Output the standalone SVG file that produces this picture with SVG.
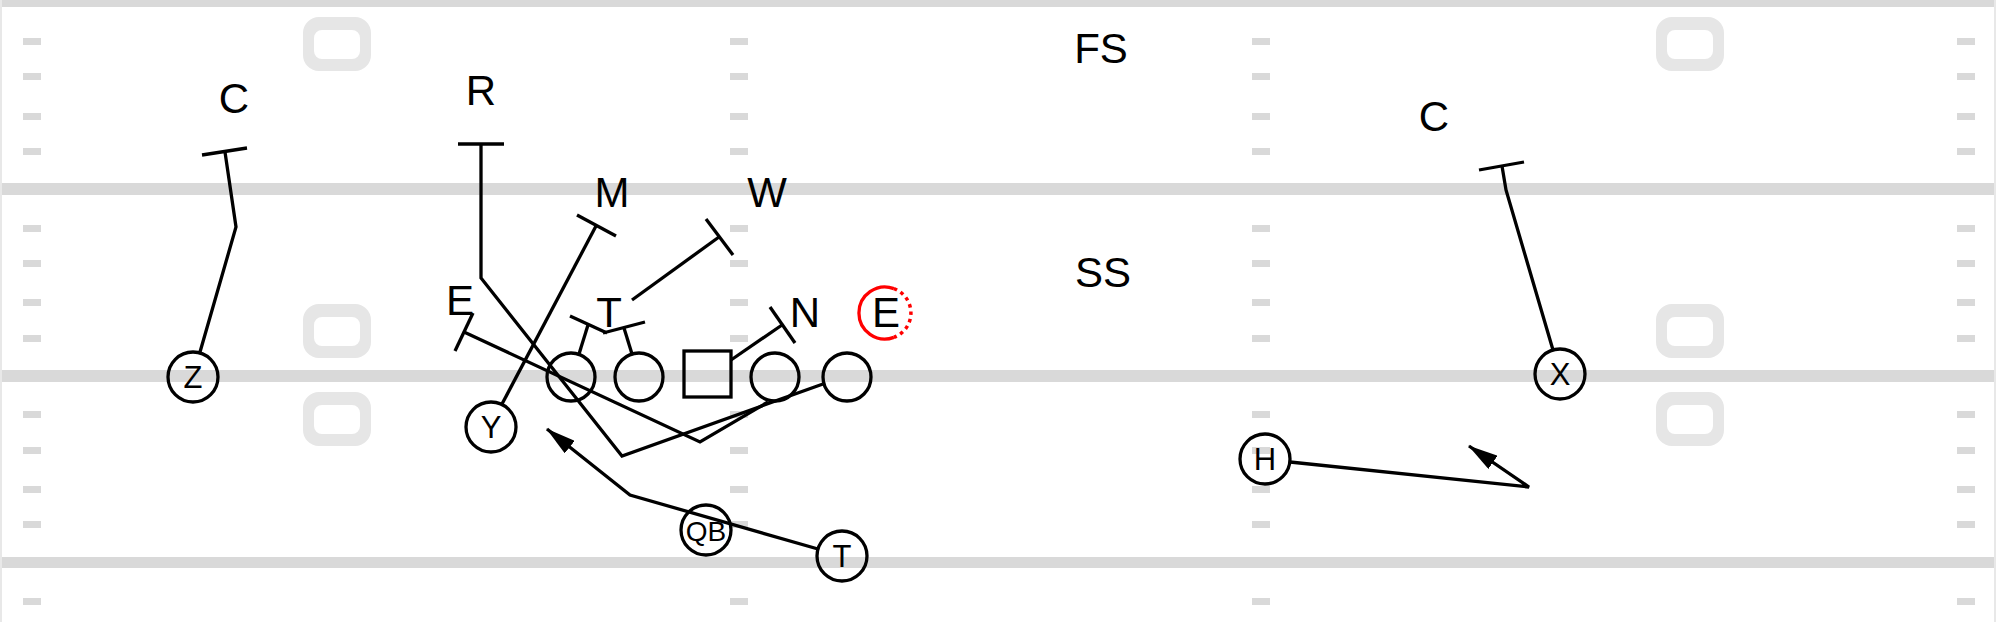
<svg xmlns="http://www.w3.org/2000/svg" xmlns:xlink="http://www.w3.org/1999/xlink" width="1996" height="622" viewBox="0 0 1996 622">
<style>
.fl{fill:#d9d9d9}
.num{fill:#e6e6e6;fill-rule:evenodd}
.rt{fill:none;stroke:#000;stroke-width:3.3;stroke-linejoin:miter}
.pl{fill:none;stroke:#000;stroke-width:3.3}
.lbl{font-family:"Liberation Sans",Arial,sans-serif;font-size:42px;text-anchor:middle;fill:#000}
.pt{font-family:"Liberation Sans",Arial,sans-serif;font-size:31px;text-anchor:middle;fill:#000}
</style>
<defs>
<marker id="arr" viewBox="0 0 30 16" refX="29" refY="8" markerWidth="30" markerHeight="16" markerUnits="userSpaceOnUse" orient="auto">
<path d="M0,0 L30,8 L0,16 z" fill="#000"/>
</marker>
<g id="hashcol">
<rect class="fl" x="0" y="38" width="18" height="7"/>
<rect class="fl" x="0" y="73" width="18" height="7"/>
<rect class="fl" x="0" y="113" width="18" height="7"/>
<rect class="fl" x="0" y="148" width="18" height="7"/>
<rect class="fl" x="0" y="225" width="18" height="7"/>
<rect class="fl" x="0" y="260" width="18" height="7"/>
<rect class="fl" x="0" y="299" width="18" height="7"/>
<rect class="fl" x="0" y="335" width="18" height="7"/>
<rect class="fl" x="0" y="411" width="18" height="7"/>
<rect class="fl" x="0" y="447" width="18" height="7"/>
<rect class="fl" x="0" y="486" width="18" height="7"/>
<rect class="fl" x="0" y="521" width="18" height="7"/>
<rect class="fl" x="0" y="598" width="18" height="7"/>
</g>
<path id="zero" class="num" d="M16,0 H52 A16,16 0 0 1 68,16 V38 A16,16 0 0 1 52,54 H16 A16,16 0 0 1 0,38 V16 A16,16 0 0 1 16,0 Z M19,13 A8,8 0 0 0 11,21 V34 A8,8 0 0 0 19,42 H49 A8,8 0 0 0 57,34 V21 A8,8 0 0 0 49,13 Z"/>
</defs>
<rect x="0" y="0" width="1996" height="622" fill="#fff"/>
<g id="field">
<rect x="0" y="0" width="2" height="622" fill="#e8e8e8"/>
<rect x="1994" y="0" width="2" height="622" fill="#e8e8e8"/>
<rect class="fl" x="2" y="0" width="1992" height="7"/>
<rect class="fl" x="2" y="183" width="1992" height="12"/>
<rect class="fl" x="2" y="370" width="1992" height="12"/>
<rect class="fl" x="2" y="557" width="1992" height="11"/>
<use xlink:href="#hashcol" href="#hashcol" x="23" y="0"/>
<use xlink:href="#hashcol" href="#hashcol" x="730" y="0"/>
<use xlink:href="#hashcol" href="#hashcol" x="1252" y="0"/>
<use xlink:href="#hashcol" href="#hashcol" x="1957" y="0"/>
<use xlink:href="#zero" href="#zero" x="303" y="17"/>
<use xlink:href="#zero" href="#zero" x="303" y="304"/>
<use xlink:href="#zero" href="#zero" x="303" y="392"/>
<use xlink:href="#zero" href="#zero" x="1656" y="17"/>
<use xlink:href="#zero" href="#zero" x="1656" y="304"/>
<use xlink:href="#zero" href="#zero" x="1656" y="392"/>
</g>
<g id="connectors">
<path class="rt" d="M200,352 L236,227 L225,152"/>
<path class="rt" d="M202,155 L247,148"/>
<path class="rt" d="M823,384 L622,456 L481,278 L481,144"/>
<path class="rt" d="M458,144 L504,144"/>
<path class="rt" d="M502,404 L596,226"/>
<path class="rt" d="M577,215 L616,236"/>
<path class="rt" d="M632,300 L719,237"/>
<path class="rt" d="M706,219 L733,255"/>
<path class="rt" d="M579,354 L588,325"/>
<path class="rt" d="M570,316 L607,333"/>
<path class="rt" d="M632,354 L624,328"/>
<path class="rt" d="M603,333 L645,322"/>
<path class="rt" d="M731,360 L782,325"/>
<path class="rt" d="M770,307 L795,343"/>
<path class="rt" d="M768,402 L700,442 L464,332"/>
<path class="rt" d="M455,351 L473,313"/>
<path class="rt" d="M1553,350 L1506,190 L1502,166"/>
<path class="rt" d="M1479,170 L1524,162"/>
<path class="rt" d="M1290,462 L1529,487 L1469,446" marker-end="url(#arr)"/>
<path class="rt" d="M818,549 L630,495 L547,429" marker-end="url(#arr)"/>
</g>
<g id="node-FS"><text class="lbl" x="1101" y="63">FS</text></g>
<g id="node-SS"><text class="lbl" x="1103" y="287">SS</text></g>
<g id="node-C-left"><text class="lbl" x="234" y="113">C</text></g>
<g id="node-C-right"><text class="lbl" x="1434" y="131">C</text></g>
<g id="node-R"><text class="lbl" x="481" y="105">R</text></g>
<g id="node-M"><text class="lbl" x="612" y="207">M</text></g>
<g id="node-W"><text class="lbl" x="767" y="207">W</text></g>
<g id="node-E-left"><text class="lbl" x="460" y="315">E</text></g>
<g id="node-T-def"><text class="lbl" x="609" y="327">T</text></g>
<g id="node-N"><text class="lbl" x="805" y="327">N</text></g>
<g id="node-E-red">
<path d="M893.9,288.6 A26,26 0 1 0 893.9,337.4" fill="none" stroke="#f00" stroke-width="3.3"/>
<path d="M893.9,288.6 A26,26 0 0 1 893.9,337.4" fill="none" stroke="#f00" stroke-width="3.5" stroke-dasharray="3.5 4"/>
<text class="lbl" x="886" y="327">E</text>
</g>
<g id="node-OL1"><circle class="pl" cx="571" cy="377" r="24"/></g>
<g id="node-OL2"><circle class="pl" cx="639" cy="377" r="24"/></g>
<g id="node-OC"><rect class="pl" x="684" y="351" width="47" height="46"/></g>
<g id="node-OL4"><circle class="pl" cx="775" cy="377" r="24"/></g>
<g id="node-OL5"><circle class="pl" cx="847" cy="377" r="24"/></g>
<g id="node-Z"><circle class="pl" cx="193" cy="377" r="25"/><text class="pt" x="193" y="388">Z</text></g>
<g id="node-Y"><circle class="pl" cx="491" cy="427" r="25"/><text class="pt" x="491" y="438">Y</text></g>
<g id="node-X"><circle class="pl" cx="1560" cy="374" r="25"/><text class="pt" x="1560" y="385">X</text></g>
<g id="node-H"><circle class="pl" cx="1265" cy="459" r="25"/><text class="pt" x="1265" y="470">H</text></g>
<g id="node-QB"><circle class="pl" cx="706" cy="530" r="25"/><text class="pt" x="706" y="541" style="font-size:28px">QB</text></g>
<g id="node-T"><circle class="pl" cx="842" cy="556" r="25"/><text class="pt" x="842" y="567">T</text></g>
</svg>
